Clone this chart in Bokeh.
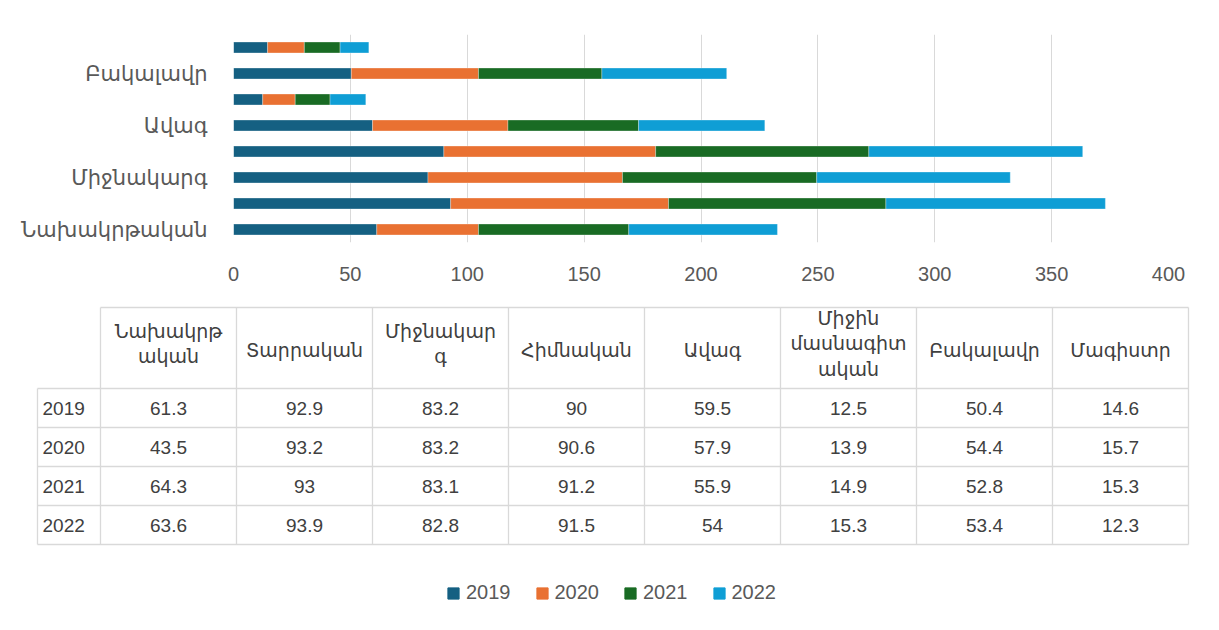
from bokeh.plotting import figure
from bokeh.models import ColumnDataSource, Range1d, FixedTicker, Legend, LegendItem
from bokeh.core.properties import value
from bokeh.layouts import column
from bokeh.embed import file_html
from bokeh.resources import INLINE

# ---------------- data ----------------
categories = ["Նախակրթական", "Տարրական", "Միջնակարգ", "Հիմնական",
              "Ավագ", "Միջին մասնագիտական", "Բակալավր", "Մագիստր"]
header_labels = ["Նախակրթ\nական", "Տարրական", "Միջնակար\nգ", "Հիմնական",
                 "Ավագ", "Միջին\nմասնագիտ\nական", "Բակալավր", "Մագիստր"]
years = ["2019", "2020", "2021", "2022"]
v2019 = [61.3, 92.9, 83.2, 90, 59.5, 12.5, 50.4, 14.6]
v2020 = [43.5, 93.2, 83.2, 90.6, 57.9, 13.9, 54.4, 15.7]
v2021 = [64.3, 93, 83.1, 91.2, 55.9, 14.9, 52.8, 15.3]
v2022 = [63.6, 93.9, 82.8, 91.5, 54, 15.3, 53.4, 12.3]
x_ticks = [0, 50, 100, 150, 200, 250, 300, 350, 400]

series = [v2019, v2020, v2021, v2022]
colors = ["#156082", "#E97132", "#196B24", "#0F9ED5"]

FONT = "Liberation Sans, DejaVu Sans"
AX_COL = "#595959"
TXT_COL = "#404040"
GRID_COL = "#d9d9d9"
W = 1203
H1 = 290
H2 = 324

# ---------------- bar chart ----------------
src = ColumnDataSource(dict(y=list(range(len(categories))),
                            **{yr: s for yr, s in zip(years, series)}))

p1 = figure(width=W, height=H1, x_range=Range1d(0, 400),
            y_range=Range1d(-0.5, len(categories) - 0.5),
            output_backend="svg", toolbar_location=None,
            min_border_left=233, min_border_right=W - 1168,
            min_border_top=34, min_border_bottom=H1 - 242)
p1.hbar_stack(years, y="y", height=0.42, color=colors, source=src,
              line_color="white", line_width=0.5, line_alpha=0.6)

p1.outline_line_color = None
p1.ygrid.grid_line_color = None
p1.xgrid.grid_line_color = GRID_COL
p1.xgrid.grid_line_width = 1
p1.xaxis.ticker = FixedTicker(ticks=x_ticks)
p1.yaxis.ticker = FixedTicker(ticks=list(range(0, len(categories), 2)))
p1.yaxis.major_label_overrides = {i: categories[i] for i in range(0, len(categories), 2)}
for ax in (p1.xaxis[0], p1.yaxis[0]):
    ax.axis_line_color = None
    ax.major_tick_line_color = None
    ax.minor_tick_line_color = None
    ax.major_label_text_color = AX_COL
    ax.major_label_text_font = FONT
    ax.major_label_text_font_size = "20px"
p1.yaxis.major_label_text_font_size = "21px"
p1.xaxis.major_label_standoff = 18
p1.yaxis.major_label_standoff = 20

# ---------------- data table + legend ----------------
p2 = figure(width=W, height=H2, x_range=Range1d(0, W), y_range=Range1d(H2, 0),
            output_backend="svg", toolbar_location=None,
            min_border_left=0, min_border_right=0, min_border_top=0, min_border_bottom=0)
p2.axis.visible = False
p2.grid.visible = False
p2.outline_line_color = None

for fig in (p1, p2):
    try:
        fig.frame_align = False
    except Exception:
        pass

TX0, TXC, CW = 37, 100, 136
TY0, HH, RH = 307 - H1, 81, 39
ncol = len(categories)
nrow = len(years)
xr = TXC + CW * ncol
ybot = TY0 + HH + RH * nrow

x0s, y0s, x1s, y1s = [], [], [], []
x0s.append(TXC); x1s.append(xr); y0s.append(TY0); y1s.append(TY0)
for r in range(nrow + 1):
    yy = TY0 + HH + RH * r
    x0s.append(TX0); x1s.append(xr); y0s.append(yy); y1s.append(yy)
x0s.append(TX0); x1s.append(TX0); y0s.append(TY0 + HH); y1s.append(ybot)
for c in range(ncol + 1):
    xx = TXC + CW * c
    x0s.append(xx); x1s.append(xx); y0s.append(TY0); y1s.append(ybot)
p2.segment(x0=x0s, y0=y0s, x1=x1s, y1=y1s, line_color=GRID_COL, line_width=1.3)

# header
hx = [TXC + CW * c + CW / 2 for c in range(ncol)]
hy = [TY0 + HH / 2 + (2 if "\n" not in h else -4) for h in header_labels]
p2.text(x=hx, y=hy, text=header_labels, text_align="center", text_baseline="middle",
        text_font=value(FONT), text_font_size="19px", text_color=TXT_COL,
        text_line_height=1.2)

# rows
for r, (yr, s) in enumerate(zip(years, series)):
    yc = TY0 + HH + RH * r + RH / 2
    p2.text(x=[TX0 + 5], y=[yc], text=[yr], text_align="left", text_baseline="middle",
            text_font=value(FONT), text_font_size="19px", text_color=TXT_COL)
    p2.text(x=hx, y=[yc] * ncol, text=[f"{v:g}" for v in s], text_align="center",
            text_baseline="middle", text_font=value(FONT), text_font_size="19px",
            text_color=TXT_COL)

# legend (icons only: dummy renderers without visible marks)
items = []
for yr, col in zip(years, colors):
    r = p2.rect(x=[float("nan")], y=[float("nan")], width=1, height=1,
                fill_color=col, line_color=col)
    items.append(LegendItem(label=yr, renderers=[r]))
legend = Legend(items=items, orientation="horizontal",
                location=(446, H2 - (604 - H1)),
                border_line_color=None, background_fill_alpha=0, padding=0, margin=0,
                glyph_width=14, glyph_height=14, label_standoff=6, spacing=24,
                label_text_font=FONT, label_text_font_size="20px",
                label_text_color=AX_COL)
p2.add_layout(legend)

layout = column(p1, p2, spacing=0)
open("out.html", "w").write(file_html(layout, INLINE))
